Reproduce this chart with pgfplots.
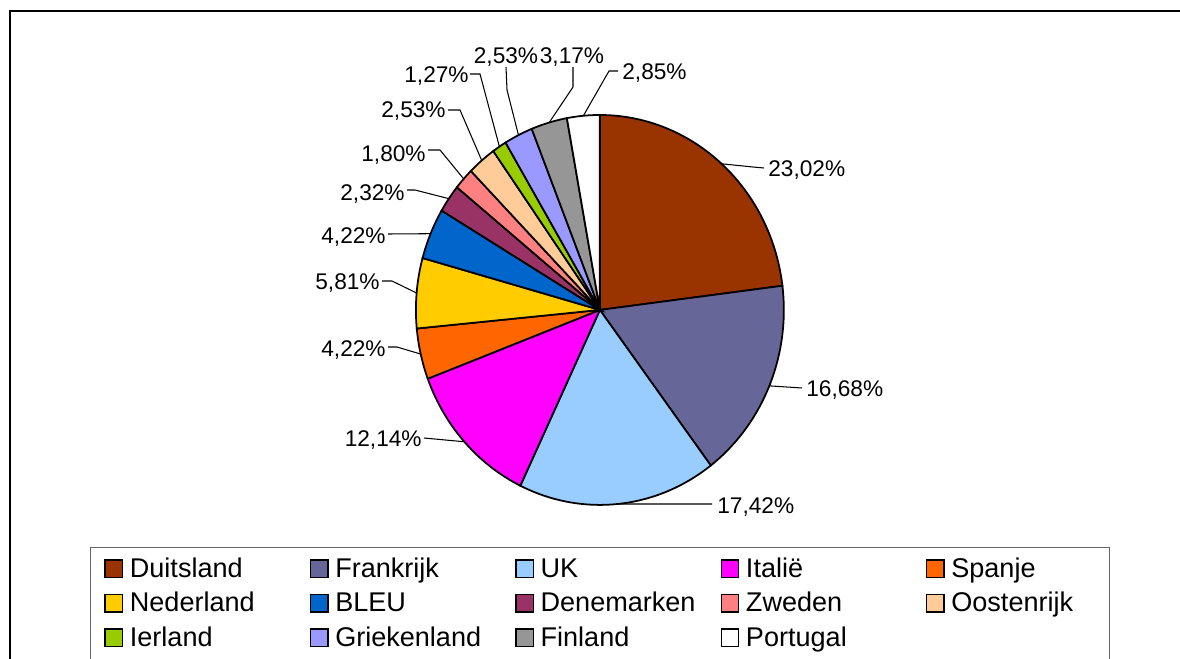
\documentclass[border=0pt]{standalone}
\usepackage{fontspec}
\setmainfont{Liberation Sans}
\usepackage{pgfplots}
\pgfplotsset{compat=1.18}
\usepgfplotslibrary{polar}

\definecolor{cDuits}{HTML}{993300}
\definecolor{cFrank}{HTML}{666699}
\definecolor{cUK}{HTML}{99CCFF}
\definecolor{cItal}{HTML}{FF00FF}
\definecolor{cSpan}{HTML}{FF6600}
\definecolor{cNed}{HTML}{FFCC00}
\definecolor{cBleu}{HTML}{0066CC}
\definecolor{cDen}{HTML}{993366}
\definecolor{cZwe}{HTML}{FF8080}
\definecolor{cOos}{HTML}{FFCC99}
\definecolor{cIer}{HTML}{99CC00}
\definecolor{cGri}{HTML}{9999FF}
\definecolor{cFin}{HTML}{969696}
\definecolor{cPor}{HTML}{FFFFFF}

\newcommand\legfont{\fontsize{15.4}{18}\selectfont}
\newcommand\labfont{\fontsize{12.9}{15}\selectfont}
\pgfkeys{/pgf/number format/.cd,fixed,fixed zerofill,precision=2,use comma,assume math mode=true}

\begin{document}
\begin{tikzpicture}
% pie: share in %, clockwise from the top
\begin{axis}[
  at={(0,0)}, anchor=north west,
  width=23.6cm, height=13.18cm, scale only axis,
  hide axis,
  xmin=-3.26087, xmax=3.15217, ymin=-1.78974, ymax=1.58974,
  legend columns=5,
  legend image code/.code={\draw[#1,line width=0.8pt] (0cm,0cm) rectangle (0.35cm,0.35cm);},
  legend style={at={(0.07627,0.16995)}, anchor=north west,
    draw=black!60, line width=0.6pt,
    inner xsep=0.28cm, inner ysep=0.18cm, font=\legfont,
    cells={anchor=base west},
    nodes={inner sep=0pt, text width=3.6cm, text height=0.42cm, text depth=0.27cm},
    /tikz/every odd column/.style={column sep=0.13cm},
    /tikz/every even column/.style={column sep=0pt},
    /tikz/column 10/.style={nodes={text width=2.88cm}}},
]
\gdef\cum{0}
\foreach \p/\c/\n in {23.02/cDuits/Duitsland, 16.68/cFrank/Frankrijk, 17.42/cUK/UK,
    12.14/cItal/Italië, 4.22/cSpan/Spanje, 5.81/cNed/Nederland, 4.22/cBleu/BLEU,
    2.32/cDen/Denemarken, 1.80/cZwe/Zweden, 2.53/cOos/Oostenrijk, 1.27/cIer/Ierland,
    2.53/cGri/Griekenland, 3.17/cFin/Finland, 2.85/cPor/Portugal}{
  \pgfmathsetmacro\aS{90-3.6*\cum}
  \pgfmathsetmacro\cumN{\cum+\p}
  \pgfmathsetmacro\aE{90-3.6*\cumN}
  \edef\temp{\noexpand\addplot[draw=black, fill=\c, line width=1pt,
      data cs=polar, domain=\aE:\aS, samples=50] {1} -- (axis cs:0,0) -- cycle;
    \noexpand\addlegendentry{\n}}
  \temp
  \xdef\cum{\cumN}
}
\end{axis}

% frame, leader lines and value labels in pixel units
\begin{scope}[x=0.02cm,y=-0.02cm]
\draw[line width=0.04cm] (10,700) -- (10,11) -- (1200,11);
\gdef\cum{0}
\foreach \p/\ax/\ay/\bx/\by/\tx/\ty/\anc in {
    23.02/753/167/764/168/768/176/base west,
    16.68/802/388/802/388/806/396/base west,
    17.42/712/504/712/504/717/513/base west,
    12.14/424/438/424/438/422/446/base east,
    4.22/397/347/388/347/386/356/base east,
    5.81/392/281/382/281/380/289/base east,
    4.22/388/234/388/234/386/243/base east,
    2.32/415/190/407/190/405/200/base east,
    1.80/440/150/428/150/426/161/base east,
    2.53/460/110/448/110/446/117/base east,
    1.27/480/74/470/74/469/82/base east,
    2.53/507/90/506/67/506/63/base,
    3.17/573/87/573/67/572/63/base,
    2.85/609/71/618/71/622/79/base west}{
  \pgfmathsetmacro\ang{90-3.6*(\cum+\p/2)}
  \draw[line width=0.6pt] ({600+184*cos(\ang)},{310-195*sin(\ang)}) -- (\ax,\ay) -- (\bx,\by);
  \node[anchor=\anc, inner sep=0pt, font=\labfont] at (\tx,\ty) {\pgfmathprintnumber{\p}\%};
  \pgfmathsetmacro\cumN{\cum+\p}
  \xdef\cum{\cumN}
}
\pgfresetboundingbox
\path[use as bounding box] (0,0) rectangle (1180,659);
\end{scope}
\end{tikzpicture}
\end{document}
